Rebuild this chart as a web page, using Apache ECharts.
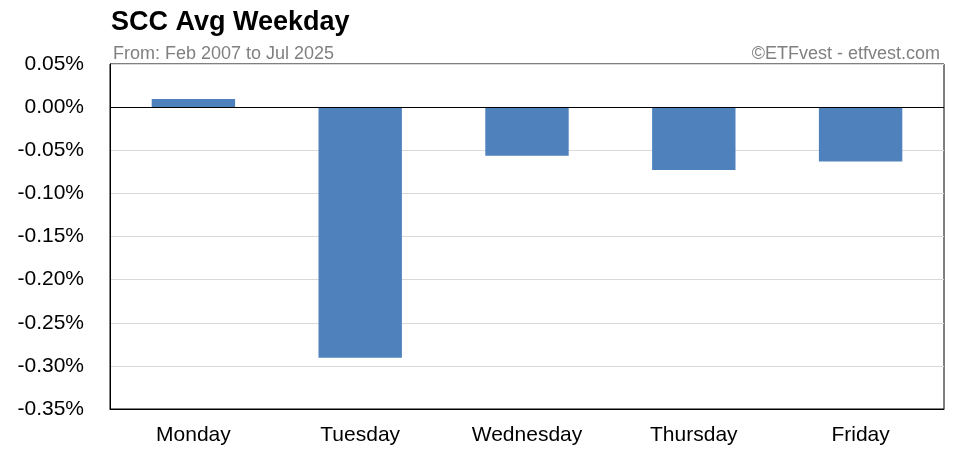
<!DOCTYPE html>
<html><head><meta charset="utf-8">
<script src="https://cdn.jsdelivr.net/npm/echarts@6/dist/echarts.min.js"></script>
<style>body{margin:0}#c{width:965px;height:465px}</style></head>
<body><div id="c"></div>
<script>
const categories = ['Monday','Tuesday','Wednesday','Thursday','Friday'];
const values = [0.0093, -0.2905, -0.0565, -0.0730, -0.0630];
const chart = echarts.init(document.getElementById('c'));
const F = 'Liberation Sans';
chart.setOption({
  animation:false,
  title:[
    {text:'SCC Avg Weekday',left:106,top:4,textStyle:{fontFamily:F,fontSize:27,fontWeight:'bold',color:'#000'}},
    {text:'From: Feb 2007 to Jul 2025',left:108,top:40,textStyle:{fontFamily:F,fontSize:18,fontWeight:'normal',color:'#808080'}},
    {text:'©ETFvest - etfvest.com',right:20,top:40,textStyle:{fontFamily:F,fontSize:18,fontWeight:'normal',color:'#808080'}}
  ],
  grid:{left:110,right:21,top:64,bottom:56},
  xAxis:{type:'category',data:categories,position:'bottom',
    axisLine:{onZero:false,lineStyle:{color:'#000'}},axisTick:{show:false},
    axisLabel:{fontFamily:F,fontSize:21,color:'#000',margin:16}},
  yAxis:{type:'value',min:-0.35,max:0.05,interval:0.05,
    axisLine:{show:true,lineStyle:{color:'#000'}},
    splitLine:{lineStyle:{color:'#d9d9d9'}},
    axisLabel:{fontFamily:F,fontSize:21,color:'#000',margin:26,formatter:v=>v.toFixed(2)+'%'}},
  series:[{type:'bar',data:values,barWidth:'50%',itemStyle:{color:'#4f81bd'},
    markLine:{silent:true,symbol:'none',label:{show:false},lineStyle:{color:'#000',type:'solid',width:1},data:[{yAxis:0}]}}],
  graphic:[{type:'rect',shape:{x:110,y:64,width:834,height:345},style:{fill:'none',stroke:'#000',lineWidth:1},silent:true}]
});
</script></body></html>
